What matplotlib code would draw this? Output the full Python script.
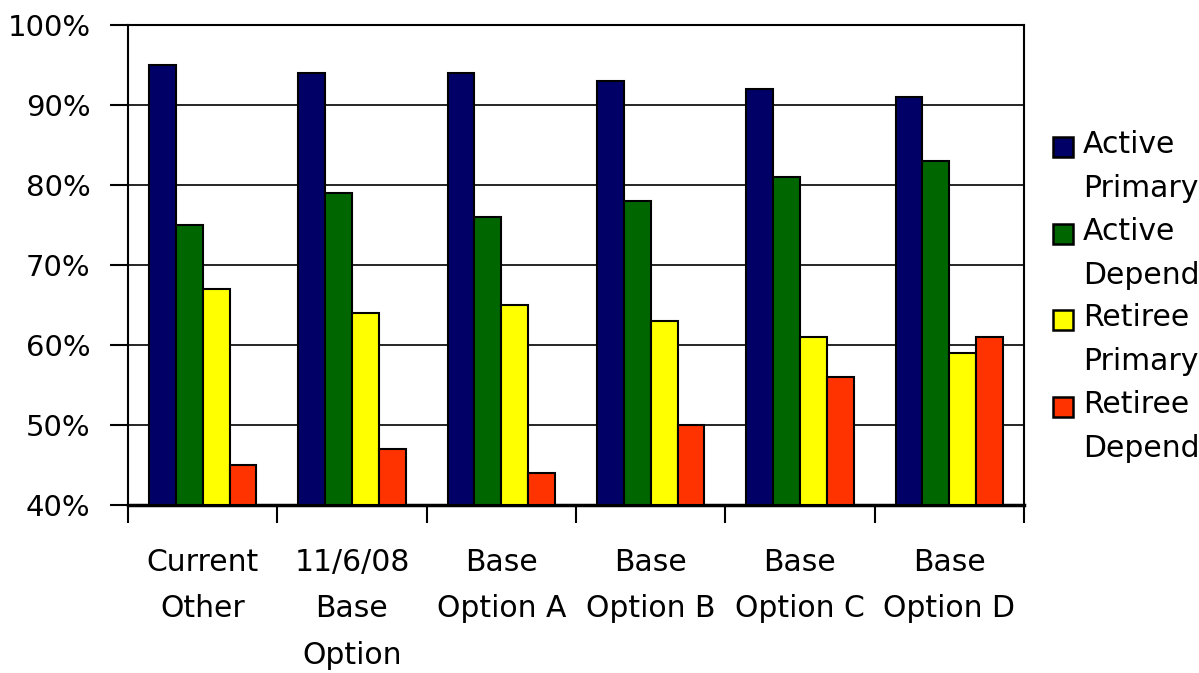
import numpy as np
import matplotlib.pyplot as plt
from matplotlib.patches import Rectangle

groups = ['Current\nOther', '11/6/08\nBase\nOption', 'Base\nOption A',
          'Base\nOption B', 'Base\nOption C', 'Base\nOption D']
series = ['Active\nPrimary', 'Active\nDependent', 'Retiree\nPrimary', 'Retiree\nDependent']
active_primary = [95, 94, 94, 93, 92, 91]
active_dependent = [75, 79, 76, 78, 81, 83]
retiree_primary = [67, 64, 65, 63, 61, 59]
retiree_dependent = [45, 47, 44, 50, 56, 61]
colors = ['#000066', '#006600', '#ffff00', '#ff3300']

W, H = 1199, 673
plt.rcParams['font.family'] = ['DejaVu Sans']
fig = plt.figure(figsize=(W/100, H/100), dpi=100)
ax = fig.add_axes([128/W, 1 - 505/H, (1024-128)/W, (505-25)/H])

x = np.arange(len(groups))
w = 0.18
vals = [active_primary, active_dependent, retiree_primary, retiree_dependent]
for i, (v, c) in enumerate(zip(vals, colors)):
    ax.bar(x + (i - 1.5) * w, np.array(v) - 40, bottom=40, width=w, color=c,
           edgecolor='black', linewidth=1.5, zorder=3)

ax.set_xlim(-0.5, len(groups) - 0.5)
ax.set_ylim(40, 100)
ax.set_yticks(range(40, 101, 10))
ax.set_yticklabels([f'{t}%' for t in range(40, 101, 10)], fontsize=21)
for t in range(50, 101, 10):
    ax.axhline(t, color='black', linewidth=1.2, zorder=1)

ax.set_xticks(np.arange(-0.5, len(groups), 1))
ax.set_xticklabels([])
ax.tick_params(axis='x', length=13, width=1.5, direction='out')
ax.tick_params(axis='y', length=13, width=1.5, direction='out', pad=14)
for i, g in enumerate(groups):
    ax.text(i, 34.6, g, ha='center', va='top', fontsize=21.5, linespacing=1.75)

for s in ax.spines.values():
    s.set_linewidth(1.5)
ax.spines['bottom'].set_linewidth(2.5)

# legend drawn by hand so each square sits beside the first line of its label
for i, (lab, c) in enumerate(zip(series, colors)):
    yc = 147 + i * 86.7
    fig.patches.append(Rectangle((1053/W, 1 - (yc + 10)/H), 20/W, 20/H,
                                 transform=fig.transFigure, facecolor=c,
                                 edgecolor='black', linewidth=1.8))
    fig.text(1083/W, 1 - (yc - 17)/H, lab, ha='left', va='top',
             fontsize=21.5, linespacing=1.65)

fig.savefig('out.png', dpi=100)
